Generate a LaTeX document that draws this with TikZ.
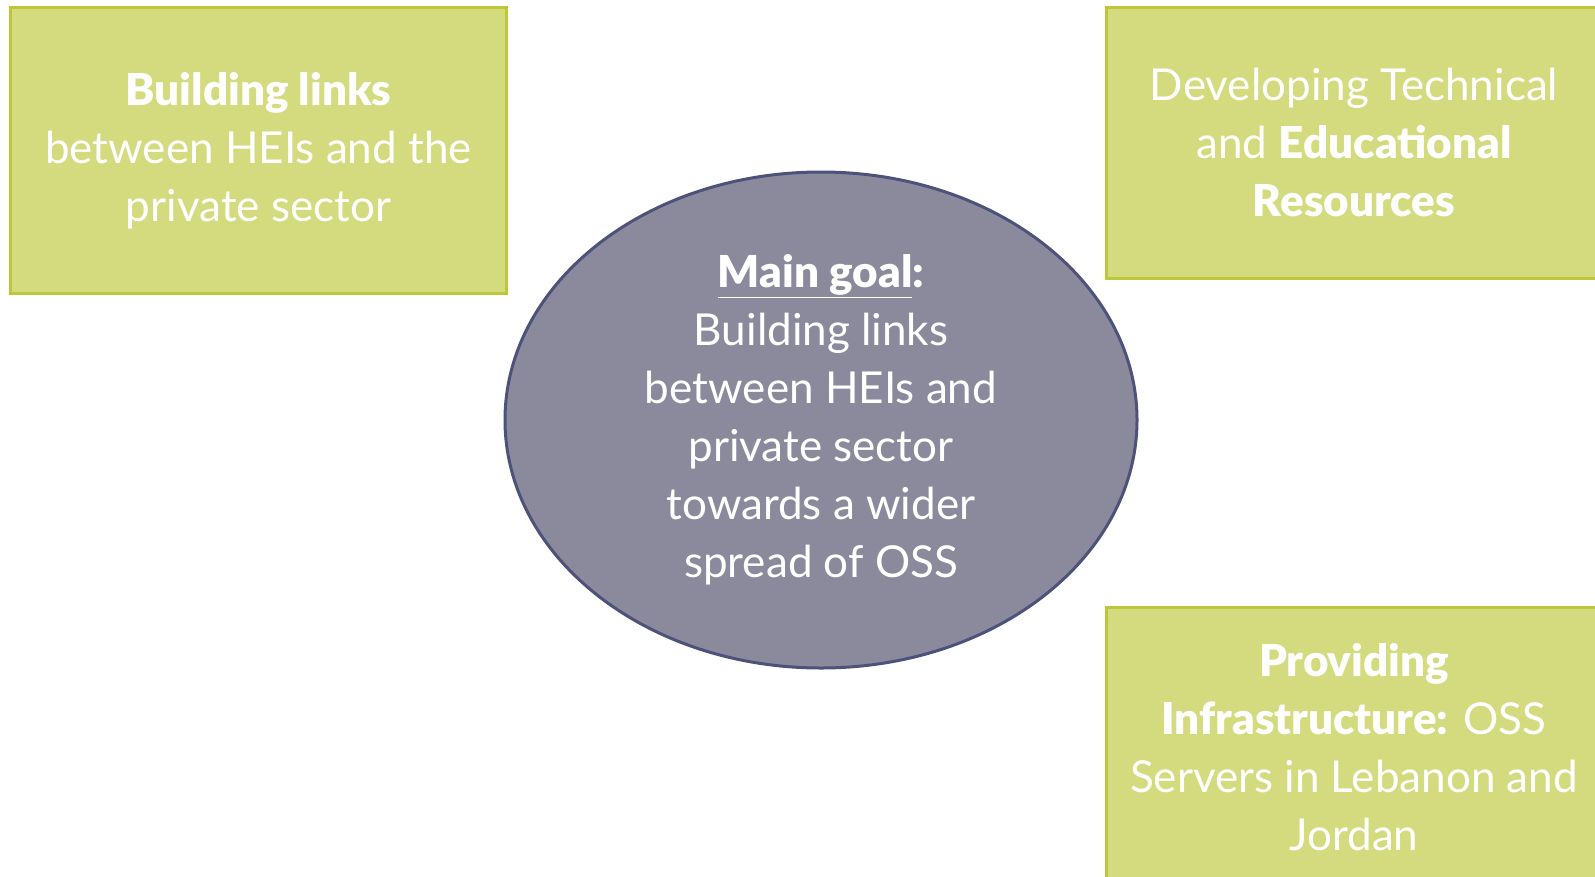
\documentclass[tikz,border=0pt]{standalone}
\usepackage{fontspec}
\setmainfont{Lato}[BoldFont={Lato Black}]
\usetikzlibrary{shapes.geometric}
\definecolor{boxfill}{RGB}{212,219,126}
\definecolor{boxline}{RGB}{190,199,58}
\definecolor{ellfill}{RGB}{139,138,157}
\definecolor{ellline}{RGB}{76,82,122}
\begin{document}
\begin{tikzpicture}[x=1pt,y=-1pt,
  greenbox/.style={draw=boxline, fill=boxfill, line width=3pt, text=white,
    align=center, font=\fontsize{44}{58}\selectfont, inner sep=0pt},
  goal/.style={ellipse, draw=ellline, fill=ellfill, line width=3pt, text=white,
    align=center, font=\fontsize{44}{58}\selectfont, inner sep=0pt}]
\useasboundingbox (0,0) rectangle (1595,876);
\node[greenbox, minimum width=496pt, minimum height=286pt] (b1) at (258.5,150.5)
  {\textbf{Building links}\\between HEIs and the\\private sector};
\node[greenbox, minimum width=496pt, minimum height=271pt] (b2) at (1354,142.5)
  {Developing Technical\\and \textbf{Educational}\\\textbf{Resources}};
\node[greenbox, minimum width=496pt, minimum height=280pt] (b3) at (1354,747)
  {\textbf{Providing}\\\textbf{Infrastructure:} OSS\\Servers in Lebanon and\\Jordan};
\node[goal, minimum width=632pt, minimum height=496pt] (g) at (821,420)
  {\textbf{\underline{Main goal}:}\\Building links\\between HEIs and\\private sector\\towards a wider\\spread of OSS};
\end{tikzpicture}
\end{document}
